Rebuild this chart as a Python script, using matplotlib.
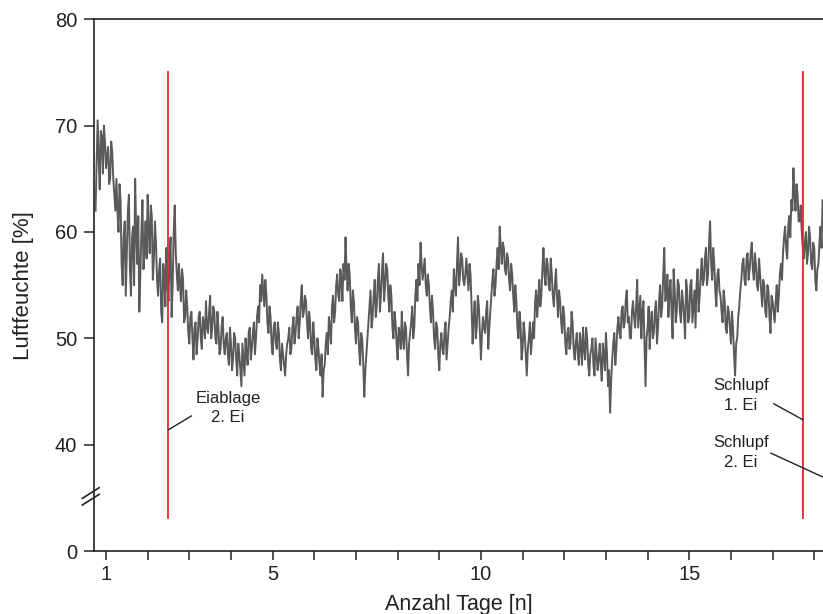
import numpy as np
import matplotlib
matplotlib.use("Agg")
import matplotlib.pyplot as plt

plt.rcParams['font.family'] = ['Liberation Sans', 'DejaVu Sans']

# humidity readings [%], one every 0.05 day starting at day 0.75
humidity = [
    62.0, 70.5, 64.0, 69.0, 70.0, 66.0, 68.0, 65.0, 67.5, 63.5,
    65.0, 60.0, 63.0, 55.0, 61.0, 58.0, 63.5, 54.0, 60.5, 65.0,
    57.0, 52.5, 60.0, 56.5, 61.0, 63.5, 58.0, 61.5, 57.5, 59.0,
    54.0, 57.5, 51.5, 56.0, 58.5, 53.5, 59.5, 55.0, 62.5, 56.0,
    57.0, 53.5, 55.5, 52.0, 53.0, 49.5, 52.5, 48.0, 51.5, 50.0,
    52.5, 49.0, 51.5, 53.5, 50.5, 54.0, 51.0, 52.5, 49.5, 51.0,
    49.0, 52.0, 48.5, 50.5, 47.5, 49.5, 48.0, 50.0, 46.5, 48.5,
    45.5, 48.0, 50.0, 47.5, 51.0, 49.0, 51.5, 50.0, 53.0, 55.0,
    56.0, 53.0, 54.0, 50.5, 52.0, 48.5, 51.5, 49.0, 50.5, 47.0,
    48.5, 46.5, 49.5, 51.0, 49.0, 52.0, 50.5, 53.0, 51.5, 55.0,
    52.5, 53.5, 50.0, 51.5, 48.5, 50.0, 47.0, 49.0, 46.5, 44.5,
    47.5, 50.5, 52.0, 49.5, 54.0, 52.5, 56.0, 53.5, 55.5, 57.0,
    59.5, 54.5, 56.0, 51.5, 53.5, 49.5, 51.5, 47.5, 50.0, 44.5,
    48.5, 51.5, 54.5, 52.0, 55.5, 53.0, 57.0, 54.0, 58.0, 55.0,
    56.5, 52.5, 54.0, 50.0, 51.5, 48.0, 50.5, 52.5, 49.0, 51.0,
    46.5, 50.5, 53.0, 51.0, 55.5, 57.0, 59.0, 55.5, 57.5, 54.0,
    55.0, 51.5, 52.5, 49.0, 51.0, 47.0, 50.5, 48.5, 51.5, 49.5,
    52.0, 54.5, 56.5, 54.0, 59.5, 56.0, 57.5, 55.0, 57.5, 54.5,
    56.0, 49.5, 53.5, 51.0, 53.0, 48.0, 52.0, 50.5, 53.5, 51.0,
    54.0, 56.5, 55.0, 58.5, 60.5, 57.0, 58.5, 56.0, 57.5, 54.5,
    56.0, 52.5, 53.5, 50.0, 51.5, 49.0, 50.5, 46.5, 50.0, 48.5,
    51.5, 53.5, 52.0, 55.5, 54.0, 58.5, 55.0, 57.0, 54.5, 56.0,
    53.0, 56.5, 52.0, 53.5, 50.5, 52.0, 48.5, 51.0, 49.5, 51.5,
    48.0, 50.5, 47.5, 49.5, 51.0, 48.0, 50.0, 46.5, 49.0, 47.5,
    50.0, 47.0, 49.5, 46.0, 48.5, 50.5, 45.5, 43.0, 48.0, 50.5,
    49.0, 52.0, 50.0, 53.0, 51.5, 54.5, 52.0, 50.0, 53.5, 51.0,
    55.5, 52.5, 50.0, 53.5, 45.5, 51.0, 49.0, 52.5, 50.5, 53.5,
    51.0, 55.0, 53.0, 58.5, 54.0, 52.0, 55.5, 50.0, 54.5, 52.5,
    55.0, 51.5, 53.5, 50.0, 54.5, 52.0, 55.5, 53.0, 51.0, 56.5,
    54.0, 57.5, 55.5, 58.5, 56.0, 61.0, 55.5, 57.0, 53.0, 56.5,
    54.0, 51.5, 53.5, 50.5, 52.5, 49.5, 51.0, 46.5, 50.0, 53.0,
    55.5, 57.5, 55.0, 58.0, 56.5, 59.0, 55.5, 57.0, 54.5, 56.0,
    53.0, 55.0, 52.0, 54.5, 50.5, 53.5, 51.5, 55.0, 54.0, 57.0,
    58.0, 60.5, 57.5, 61.5, 63.0, 66.0, 62.0, 63.5, 61.0, 60.0,
    57.5, 60.0, 58.0, 59.5, 56.5, 58.5, 54.5, 57.0, 60.5, 63.0,
    62.0,
]
# readings in between, at day 0.775, 0.825, ...
humidity_half = [
    66.5, 67.0, 69.5, 65.5, 68.5, 67.0, 64.5, 68.5, 65.0, 62.0,
    62.0, 64.5, 57.0, 59.5, 54.0, 62.0, 56.5, 59.5, 55.0, 60.0,
    61.5, 56.0, 63.0, 58.5, 57.5, 60.0, 62.5, 55.5, 61.0, 55.5,
    56.5, 52.5, 57.0, 53.0, 55.0, 57.5, 52.0, 60.0, 58.0, 54.5,
    55.0, 56.5, 51.5, 54.5, 50.5, 52.0, 50.0, 51.0, 48.5, 52.0,
    50.0, 52.0, 50.0, 51.0, 52.5, 50.0, 53.0, 50.0, 52.5, 48.5,
    51.0, 49.5, 50.0, 48.5, 51.0, 47.0, 50.5, 48.0, 49.5, 47.0,
    49.5, 46.5, 48.5, 50.5, 48.0, 50.5, 48.5, 52.0, 51.5, 53.5,
    54.5, 55.5, 51.5, 53.0, 49.5, 51.0, 49.5, 51.5, 48.0, 49.5,
    47.5, 48.5, 50.0, 48.5, 51.0, 49.5, 52.0, 50.0, 53.5, 52.0,
    54.0, 51.5, 52.5, 49.0, 51.5, 48.0, 50.0, 47.5, 48.5, 47.0,
    49.5, 48.5, 51.0, 53.0, 51.5, 55.0, 54.0, 56.5, 53.5, 55.5,
    56.5, 57.0, 53.0, 54.5, 51.0, 52.0, 49.0, 50.5, 47.5, 47.0,
    50.0, 53.0, 51.0, 54.0, 52.0, 55.5, 52.5, 56.5, 53.5, 57.0,
    54.0, 55.0, 51.0, 52.5, 49.5, 51.0, 49.0, 50.0, 51.5, 48.5,
    49.5, 51.5, 50.0, 54.0, 53.5, 55.0, 57.0, 56.5, 55.0, 56.0,
    53.0, 54.0, 50.0, 51.5, 48.5, 49.5, 49.0, 50.5, 48.0, 51.0,
    53.5, 52.5, 55.0, 57.0, 55.0, 58.0, 55.5, 56.0, 56.0, 57.0,
    53.0, 52.0, 50.0, 54.0, 50.5, 50.5, 51.0, 52.5, 49.0, 52.5,
    55.5, 54.0, 57.0, 56.5, 58.5, 59.0, 56.5, 58.0, 55.5, 57.0,
    54.0, 55.0, 51.0, 52.5, 48.0, 51.5, 48.5, 49.0, 51.5, 50.0,
    50.0, 54.5, 53.5, 53.0, 56.5, 56.0, 57.5, 55.0, 57.5, 54.0,
    55.0, 54.0, 54.5, 51.5, 53.0, 49.5, 50.5, 49.0, 52.5, 49.0,
    49.5, 48.5, 50.5, 47.5, 49.0, 51.0, 47.5, 48.5, 50.0, 46.5,
    48.5, 48.0, 47.5, 49.5, 47.0, 48.5, 47.0, 46.0, 49.5, 47.5,
    51.0, 50.5, 52.5, 51.0, 53.5, 51.5, 50.0, 52.5, 52.0, 53.0,
    51.0, 54.0, 52.5, 49.5, 50.0, 53.0, 51.5, 50.0, 52.5, 49.5,
    53.5, 52.0, 56.0, 53.5, 56.0, 54.5, 52.5, 56.5, 51.5, 55.5,
    52.5, 54.5, 52.0, 55.5, 51.5, 55.0, 51.5, 54.5, 55.0, 52.5,
    56.0, 55.0, 57.5, 55.0, 59.0, 57.0, 58.5, 54.5, 56.0, 54.5,
    52.5, 54.5, 51.0, 53.0, 51.0, 52.5, 48.5, 49.5, 52.0, 54.5,
    57.0, 55.5, 57.5, 55.5, 58.0, 56.5, 58.0, 55.0, 57.5, 54.5,
    55.5, 52.5, 55.0, 52.0, 54.0, 52.5, 53.5, 52.5, 56.0, 55.5,
    59.5, 58.5, 60.5, 59.5, 62.0, 63.5, 64.5, 61.0, 62.5, 58.5,
    59.0, 57.0, 60.5, 57.0, 59.0, 55.5, 56.5, 59.0, 58.5, 62.5,
]
start_day = 0.75
step_day = 0.05

# merge both reading sets into one time-ordered series
values = []
for i, v in enumerate(humidity):
    values.append(v)
    if i < len(humidity_half):
        values.append(humidity_half[i])
days = start_day + step_day / 2 * np.arange(len(values))

events = [2.5, 17.73]          # red marker lines (days)
ytick_pos = [30, 40, 50, 60, 70, 80]
ytick_lab = ['0', '40', '50', '60', '70', '80']

fig = plt.figure(figsize=(8.23, 6.14), dpi=100)
ax = fig.add_axes([0.1142, 0.1026, 0.8858, 0.866])

ax.plot(days, values, color='#5a5a5a', lw=1.4)
for d in events:
    ax.plot([d, d], [33.1, 75.0], color='#e02828', lw=1.3)

ax.set_xlim(0.712, 18.21)
ax.set_ylim(30, 80)
ax.set_yticks(ytick_pos)
ax.set_yticklabels(ytick_lab)
ax.set_xticks([1, 5, 10, 15])
ax.set_xticks(range(1, 19), minor=True)
ax.tick_params(axis='both', which='both', direction='out', length=7, width=1.1,
               labelsize=14.5, color='#222222', labelcolor='#222222')
ax.tick_params(axis='y', pad=5)
ax.tick_params(axis='x', which='both', length=6.5)
ax.spines['right'].set_visible(False)
for s in ['left', 'bottom', 'top']:
    ax.spines[s].set_linewidth(1.2)
    ax.spines[s].set_color('#222222')

ax.set_ylabel('Luftfeuchte [%]', fontsize=16, color='#222222', labelpad=15)
ax.set_xlabel('Anzahl Tage [n]', fontsize=15.5, color='#222222', labelpad=7)

# axis break marks on the y axis
for dy in (0.0, -0.0125):
    ax.plot([-0.016, 0.007], [0.099 + dy, 0.119 + dy], transform=ax.transAxes,
            color='#222222', lw=1.2, clip_on=False)

# annotations
tk = dict(fontsize=12, ha='center', va='center', color='#222222')
ax.text(3.93, 44.3, 'Eiablage', **tk)
ax.text(3.93, 42.6, '2. Ei', **tk)
ax.plot([2.5, 3.05], [41.4, 42.7], color='#222222', lw=1)

ax.text(16.24, 45.55, 'Schlupf', **tk)
ax.text(16.24, 43.66, '1. Ei', **tk)
ax.plot([17.03, 17.73], [43.84, 42.34], color='#222222', lw=1)

ax.text(16.24, 40.18, 'Schlupf', **tk)
ax.text(16.24, 38.3, '2. Ei', **tk)
ax.plot([16.96, 18.6], [39.2, 36.25], color='#222222', lw=1)

fig.savefig('out.png', dpi=100)
